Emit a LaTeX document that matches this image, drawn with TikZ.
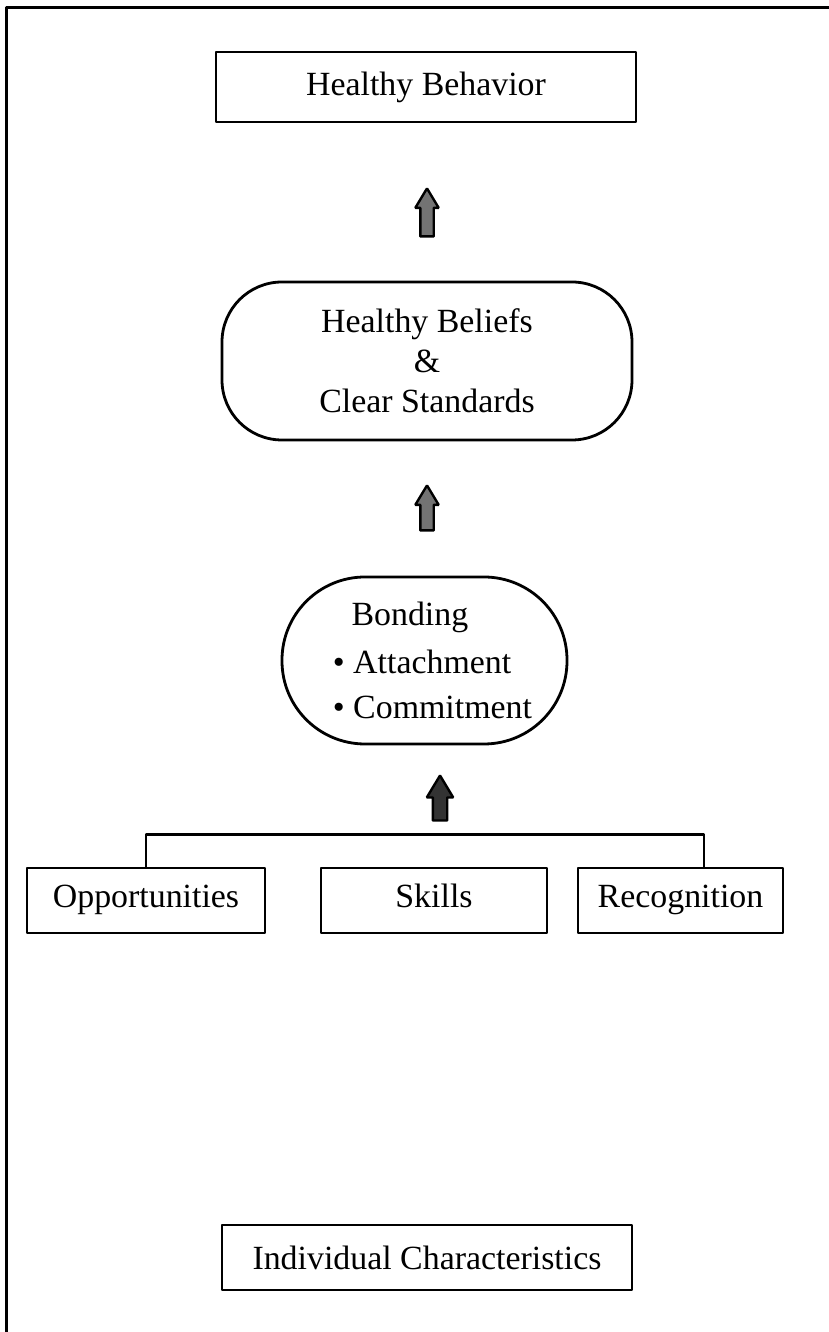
\documentclass[tikz,border=0pt]{standalone}
\usepackage{fontspec}
\setmainfont{Liberation Serif}
\usetikzlibrary{shapes.arrows}
\tikzset{
  box/.style={draw=black,line width=2.8bp,inner sep=0pt,align=center},
  pill/.style={box,rounded corners=#1},
  cell/.style={box,minimum height=65bp,text height=23bp,text depth=8bp},
  uparrow/.style={single arrow,draw=black,fill=black!55,line width=2.4bp,
    rotate=90,inner xsep=0pt,inner ysep=5.5bp,single arrow head extend=5bp,
    single arrow head indent=0bp,single arrow tip angle=62,minimum height=#1},
}
\begin{document}
\begin{tikzpicture}[>=latex,line join=bevel,font=\fontsize{34}{42}\selectfont]
\useasboundingbox (0bp,0bp) rectangle (829bp,1332bp);
%% page frame
\draw [black,line width=3bp] (829bp,1324bp) -- (6bp,1324bp) -- (6bp,0bp);
%%
\node (behavior) at (426bp,1245bp) [box,minimum width=420bp,minimum height=70bp] {Healthy Behavior};
  \node (beliefs) at (427bp,971bp) [pill=60bp,minimum width=410bp,minimum height=158bp] {Healthy Beliefs\\[-2bp]\&\\[-2bp]Clear Standards};
  \node (bonding) at (424.5bp,671.5bp) [pill=83bp,minimum width=285bp,minimum height=167bp,align=left] {\hspace*{16bp}\hspace*{0.55em}Bonding\\[6bp]\hspace*{16bp}\textbullet\ Attachment\\[4bp]\hspace*{16bp}\textbullet\ Commitment};
  \node (opportunities) at (146bp,431.5bp) [cell,minimum width=238bp] {Opportunities};
  \node (skills) at (434bp,431.5bp) [cell,minimum width=226bp] {Skills};
  \node (recognition) at (680.5bp,431.5bp) [cell,minimum width=205bp] {Recognition};
  \node (individual) at (427bp,74.5bp) [box,minimum width=410bp,minimum height=65bp] {Individual Characteristics};
%
\node (up_0) at (427bp,1114bp) [uparrow=48bp,minimum width=21bp] {};
  \node (up_1) at (427bp,818.5bp) [uparrow=45bp,minimum width=21bp] {};
  \node (up_2) at (440bp,528bp) [uparrow=45bp,minimum width=24bp,fill=black!80,inner ysep=6bp,single arrow head extend=6bp] {};
%
\draw [black,line width=2.8bp] (opportunities.north) -- ++(0bp,32bp) -| ([xshift=23.5bp]recognition.north);
%
\end{tikzpicture}
\end{document}
